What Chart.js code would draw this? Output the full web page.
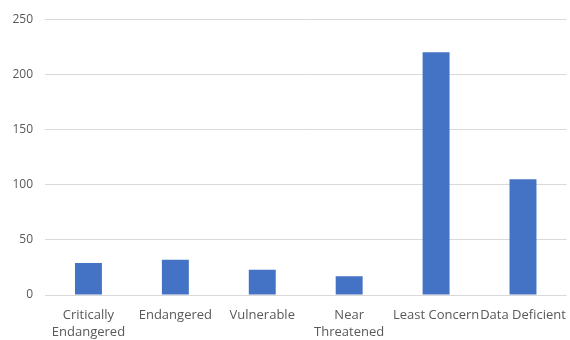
<!DOCTYPE html>
<html>
<head>
<meta charset="utf-8">
<script src="https://cdn.jsdelivr.net/npm/chart.js@4"></script>
<style>
  html, body { margin: 0; padding: 0; background: #fff; }
  #wrap { width: 570px; height: 340px; }
</style>
</head>
<body>
<div id="wrap"><canvas id="statusChart" width="570" height="340"></canvas></div>
<script>
  // Data
  const categories = [
    ['Critically', 'Endangered'],
    'Endangered',
    'Vulnerable',
    ['Near', 'Threatened'],
    'Least Concern',
    'Data Deficient'
  ];
  const speciesCounts = [29, 32, 23, 17, 220, 105];
  const yTicks = [0, 50, 100, 150, 200, 250];

  const textColor = '#595959';
  const gridColor = '#d9d9d9';
  const fontFamily = "'Open Sans', 'Liberation Sans', sans-serif";

  const ctx = document.getElementById('statusChart').getContext('2d');
  new Chart(ctx, {
    type: 'bar',
    data: {
      labels: categories,
      datasets: [{
        data: speciesCounts,
        backgroundColor: '#4472c4',
        categoryPercentage: 1,
        barPercentage: 0.31
      }]
    },
    options: {
      responsive: false,
      animation: false,
      layout: { padding: { top: 16, right: 2, left: 0, bottom: 0 } },
      plugins: {
        legend: { display: false },
        tooltip: { enabled: false }
      },
      scales: {
        x: {
          grid: { display: false },
          border: { display: false },
          ticks: {
            color: textColor,
            font: { family: fontFamily, size: 13, lineHeight: 1.3 },
            padding: 4,
            maxRotation: 0,
            autoSkip: false
          },
          afterFit: (axis) => { axis.height = 45; }
        },
        y: {
          min: yTicks[0],
          max: yTicks[yTicks.length - 1],
          afterBuildTicks: (axis) => {
            axis.ticks = yTicks.map(v => ({ value: v }));
          },
          grid: { color: gridColor, drawTicks: false },
          border: { display: false },
          ticks: {
            color: textColor,
            font: { family: fontFamily, size: 12 },
            padding: 12
          },
          afterFit: (axis) => { axis.width = 45; }
        }
      }
    }
  });
</script>
</body>
</html>
